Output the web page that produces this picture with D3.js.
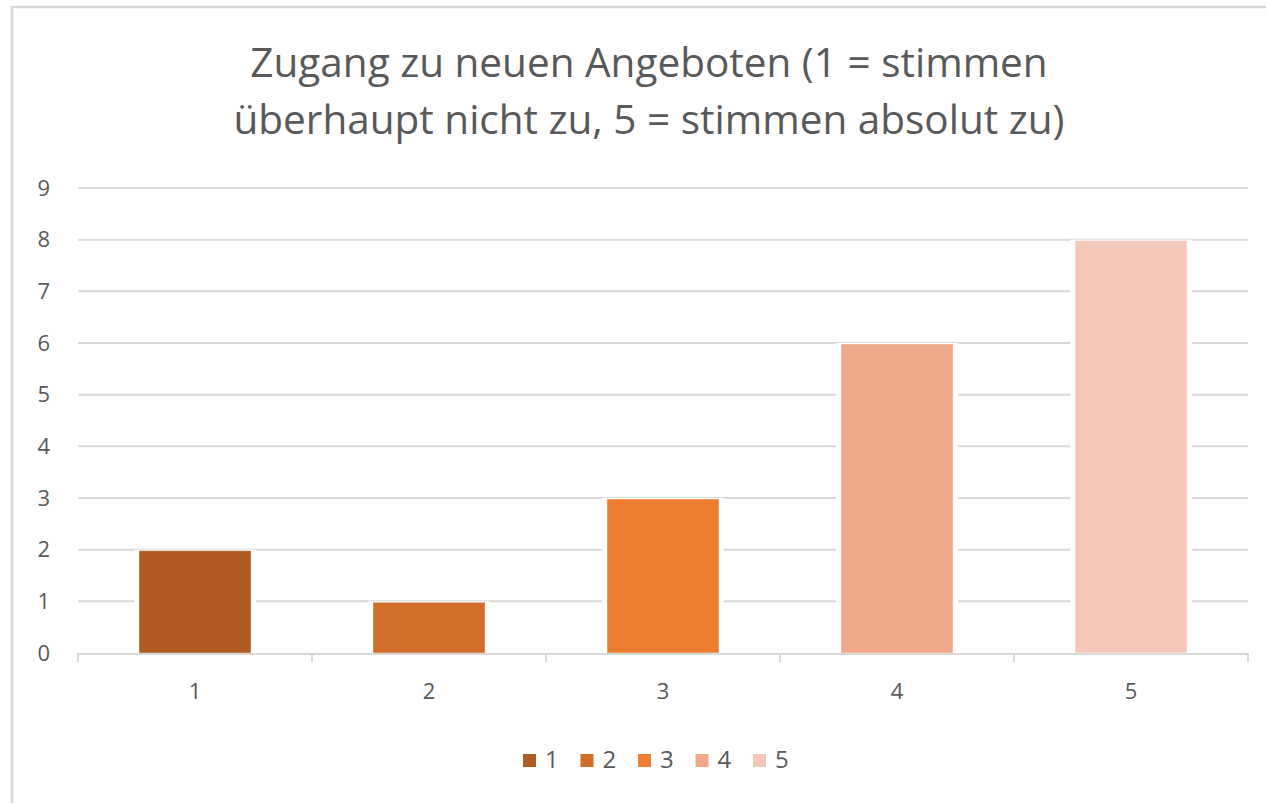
<!DOCTYPE html>
<html>
<head>
<meta charset="utf-8">
<script src="https://cdn.jsdelivr.net/npm/d3@7"></script>
<style>
	body { margin: 0; background: #fff; }
	text { font-family: 'Open Sans', 'Noto Sans', sans-serif; fill: #595959; }
</style>
</head>
<body>
<svg id="chart" width="1266" height="803"></svg>
<script>
const categories = ['1', '2', '3', '4', '5'];
const values = [2, 1, 3, 6, 8];
const barColors = ['#b05b22', '#d16d2b', '#ed7d31', '#f0a88a', '#f5c7b8'];
const yTicks = [0, 1, 2, 3, 4, 5, 6, 7, 8, 9];
const titleLines = ['Zugang zu neuen Angeboten (1 = stimmen', 'überhaupt nicht zu, 5 = stimmen absolut zu)'];

let svg = d3.select('#chart');

// chart frame
svg.append('rect')
	.attr('x', 12).attr('y', 7)
	.attr('width', 1262).attr('height', 810)
	.attr('fill', '#fff')
	.attr('stroke', '#d9d9d9')
	.attr('stroke-width', 2.5);

let x = d3.scaleBand().domain(categories).range([ 78, 1248 ]).paddingInner(0).paddingOuter(0);
let y = d3.scaleLinear().domain([ 0, 9 ]).range([ 653, 188 ]);
let barW = x.bandwidth() / 2.09;

// title
svg.append('text')
	.attr('x', 649)
	.attr('y', 77)
	.attr('text-anchor', 'middle')
	.style('font-size', '40.5px')
	.selectAll('tspan')
	.data(titleLines)
	.join('tspan')
	.attr('x', 649)
	.attr('dy', (d, i) => (i === 0 ? 0 : 57))
	.text((d) => d);

// gridlines
svg.append('g')
	.selectAll('line')
	.data(yTicks.filter((d) => d > 0))
	.join('line')
	.attr('x1', 78)
	.attr('x2', 1248)
	.attr('y1', (d) => y(d))
	.attr('y2', (d) => y(d))
	.attr('stroke', '#d9d9d9')
	.attr('stroke-width', 2);

// y labels
svg.append('g')
	.selectAll('text')
	.data(yTicks)
	.join('text')
	.attr('x', 50)
	.attr('y', (d) => y(d))
	.attr('dy', '.35em')
	.attr('text-anchor', 'end')
	.style('font-size', '22px')
	.text((d) => d);

// white halo behind bars breaks the gridlines like in Excel
svg.append('g')
	.selectAll('rect')
	.data(values)
	.join('rect')
	.attr('x', (d, i) => x(categories[i]) + (x.bandwidth() - barW) / 2 - 5)
	.attr('y', (d) => y(d))
	.attr('width', barW + 10)
	.attr('height', (d) => y(0) - y(d))
	.attr('fill', '#fff');

svg.append('g')
	.selectAll('rect')
	.data(values)
	.join('rect')
	.attr('x', (d, i) => x(categories[i]) + (x.bandwidth() - barW) / 2)
	.attr('y', (d) => y(d) + 1)
	.attr('width', barW)
	.attr('height', (d) => y(0) - y(d) - 1)
	.attr('fill', (d, i) => barColors[i])
	.attr('stroke', '#fff')
	.attr('stroke-opacity', 0.4)
	.attr('stroke-width', 1);

// x axis
let xAxis = svg.append('g')
	.attr('transform', 'translate(0,' + y(0) + ')')
	.call(d3.axisBottom(x).tickSize(0).tickPadding(30));
xAxis.select('.domain').remove();
xAxis.selectAll('text').style('font-size', '22px').style('fill', '#595959')
	.style('font-family', "'Open Sans', 'Noto Sans', sans-serif");
svg.append('line')
	.attr('x1', 78).attr('x2', 1248)
	.attr('y1', y(0) + 1).attr('y2', y(0) + 1)
	.attr('stroke', '#d9d9d9').attr('stroke-width', 2);
svg.append('g')
	.selectAll('line')
	.data(categories.concat(['end']))
	.join('line')
	.attr('x1', (d, i) => (i < categories.length ? x(d) : x(categories[i - 1]) + x.bandwidth()))
	.attr('x2', (d, i) => (i < categories.length ? x(d) : x(categories[i - 1]) + x.bandwidth()))
	.attr('y1', y(0))
	.attr('y2', y(0) + 9)
	.attr('stroke', '#d9d9d9')
	.attr('stroke-width', 2);

// legend
let legend = svg.append('g').attr('transform', 'translate(523,760)');
let item = legend.selectAll('g')
	.data(categories)
	.join('g')
	.attr('transform', (d, i) => 'translate(' + i * 57.5 + ',0)');
item.append('rect')
	.attr('x', 0).attr('y', -6)
	.attr('width', 13).attr('height', 13)
	.attr('fill', (d, i) => barColors[i]);
item.append('text')
	.attr('x', 22)
	.attr('y', 0)
	.attr('dy', '.35em')
	.style('font-size', '24px')
	.text((d) => d);
</script>
</body>
</html>
